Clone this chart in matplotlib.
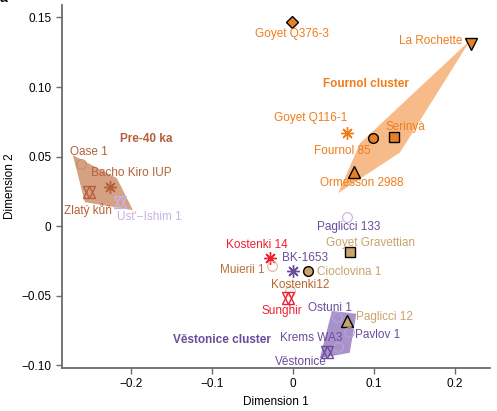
import matplotlib
matplotlib.use("Agg")
import matplotlib.pyplot as plt
from matplotlib.patches import Polygon

plt.rcParams['font.family'] = ['Liberation Sans', 'DejaVu Sans']

# ---- data ----
names = ["Goyet Q376-3", "La Rochette", "Goyet Q116-1", "Fournol 85", "Serinyà", "Ormesson 2988",
         "Oase 1", "Bacho Kiro IUP", "Zlatý kůň", "Ust'\u2212Ishim 1",
         "Paglicci 133", "Goyet Gravettian", "Kostenki 14", "Muierii 1", "BK-1653", "Cioclovina 1",
         "Kostenki12", "Sunghir", "Ostuni 1", "Paglicci 12", "Pavlov 1", "Krems WA3", "Věstonice"]
dim1 = [-0.001, 0.219, 0.067, 0.099, 0.125, 0.075,
        -0.262, -0.226, -0.252, -0.214,
        0.066, 0.070, -0.028, -0.026, 0.000, 0.0185,
        -0.004, -0.006, 0.054, 0.066, 0.069, 0.055, 0.042]
dim2 = [0.147, 0.131, 0.067, 0.063, 0.064, 0.039,
        0.0445, 0.028, 0.0244, 0.017,
        0.0065, -0.0187, -0.023, -0.029, -0.032, -0.032,
        -0.047, -0.052, -0.065, -0.068, -0.076, -0.087, -0.0905]

cluster_names = ["Pre-40 ka", "Fournol cluster", "Věstonice cluster"]
cluster_x = [-0.1815, 0.090, -0.0877]
cluster_y = [0.0625, 0.102, -0.0819]

hull_pre40_x = [-0.2716, -0.2568, -0.1975, -0.2173]
hull_pre40_y = [0.051, 0.0172, 0.0115, 0.0345]
hull_fournol_x = [0.2185, 0.132, 0.0556, 0.0827]
hull_fournol_y = [0.1336, 0.053, 0.0237, 0.0596]
hull_vest_x = [0.048, 0.078, 0.070, 0.033]
hull_vest_y = [-0.061, -0.063, -0.091, -0.095]

# ---- styles ----
ORANGE = '#F07D1A'; ORFILL = '#E8802A'
BROWN = '#B5603A'; LAV = '#C5B3E0'; PURPLE = '#6A4C9C'
TAN = '#C9A36A'; RED = '#EE2030'

# marker kind, marker color, fill, label color, label offset (px), ha
styles = [
    ('D', ORFILL, True, ORANGE, (0, -12), 'center'),
    ('v', ORFILL, True, ORANGE, (-8, 3), 'right'),
    ('ast', ORANGE, False, ORANGE, (-37, 15), 'center'),
    ('o', ORFILL, True, ORANGE, (-31, -13), 'center'),
    ('s', ORFILL, True, ORANGE, (11, 10), 'center'),
    ('^', ORFILL, True, ORANGE, (8, -11), 'center'),
    ('o', '#C4906C', False, BROWN, (8, 12), 'center'),
    ('ast', BROWN, False, BROWN, (22, 14), 'center'),
    ('hex', BROWN, False, BROWN, (-1, -18), 'center'),
    ('hex', LAV, False, LAV, (30, -15), 'center'),
    ('o', LAV, False, PURPLE, (2, -10), 'center'),
    ('s', TAN, True, TAN, (21, 9), 'center'),
    ('ast', RED, False, RED, (-13, 13), 'center'),
    ('o', '#E3B394', False, '#B8703A', (-30, -4), 'center'),
    ('ast', PURPLE, False, PURPLE, (12, 13), 'center'),
    ('o', TAN, True, TAN, (41, -1), 'center'),
    ('o', '#E8B8A0', False, '#B9652E', (10, 6), 'center'),
    ('hex', RED, False, RED, (-6, -13), 'center'),
    ('o', '#B7A5D6', False, PURPLE, (-7, 9), 'center'),
    ('^', TAN, True, TAN, (38, 4), 'center'),
    ('o', '#B7A5D6', False, PURPLE, (29, -3), 'center'),
    ('o', '#B7A5D6', False, PURPLE, (-26, 9), 'center'),
    ('hex', PURPLE, False, PURPLE, (-26, -10), 'center'),
]
cluster_colors = [BROWN, ORANGE, PURPLE]

fig = plt.figure(figsize=(4.97, 4.11), dpi=100)
ax = fig.add_axes([0.1247, 0.1046, 0.986 - 0.1247, 0.988 - 0.1046])

ax.add_patch(Polygon(list(zip(hull_pre40_x, hull_pre40_y)), closed=True,
                     facecolor='#D6A182', edgecolor='none', zorder=1))
ax.add_patch(Polygon(list(zip(hull_fournol_x, hull_fournol_y)), closed=True,
                     facecolor='#F7BB8A', edgecolor='none', zorder=1))
ax.add_patch(Polygon(list(zip(hull_vest_x, hull_vest_y)), closed=True,
                     facecolor='#A792C9', edgecolor='none', zorder=1))

for n, x, y, st in zip(names, dim1, dim2, styles):
    m, c, filled, lc, off, ha = st
    if m == 'ast':
        ax.plot(x, y, marker=(8, 2, 0), ms=9, mec=c, mew=1.0, ls='none', zorder=3)
    elif m == 'hex':
        ax.plot(x, y, marker='^', ms=8, mfc='none', mec=c, mew=1.0, ls='none', zorder=3)
        ax.plot(x, y, marker='v', ms=8, mfc='none', mec=c, mew=1.0, ls='none', zorder=3)
    elif filled:
        ms = {'D': 6.5, 'v': 8, '^': 8, 's': 6.5, 'o': 7}[m]
        ax.plot(x, y, marker=m, ms=ms, mfc=c, mec='black', mew=1.0, ls='none', zorder=3)
    else:
        ax.plot(x, y, marker='o', ms=7, mfc='none', mec=c, mew=0.8, ls='none', zorder=3)
    ax.annotate(n, (x, y), xytext=off, textcoords='offset pixels', ha=ha, va='center',
                color=lc, fontsize=8.5, zorder=4)

for n, x, y, c in zip(cluster_names, cluster_x, cluster_y, cluster_colors):
    ax.text(x, y, n, color=c, fontsize=8.5, fontweight='bold', ha='center', va='center')

ax.set_xlim(-0.285, 0.243)
ax.set_ylim(-0.102, 0.159)
ax.set_xticks([-0.2, -0.1, 0, 0.1, 0.2])
ax.set_xticklabels(['\u22120.2', '\u22120.1', '0', '0.1', '0.2'])
ax.set_yticks([-0.10, -0.05, 0, 0.05, 0.10, 0.15])
ax.set_yticklabels(['\u22120.10', '\u22120.05', '0', '0.05', '0.10', '0.15'])
for s in ['top', 'right']:
    ax.spines[s].set_visible(False)
for s in ['left', 'bottom']:
    ax.spines[s].set_color('#6b6b6b')
    ax.spines[s].set_linewidth(1.3)
ax.tick_params(colors='#6b6b6b', labelcolor='black', labelsize=8.5, length=4, width=1)
ax.set_xlabel('Dimension 1', fontsize=8.5, labelpad=4)
ax.set_ylabel('Dimension 2', fontsize=8.5, labelpad=4)

fig.text(0.0, 1.005, 'a', fontsize=10, fontweight='bold', ha='left', va='center')

fig.savefig('out.png', dpi=100)
